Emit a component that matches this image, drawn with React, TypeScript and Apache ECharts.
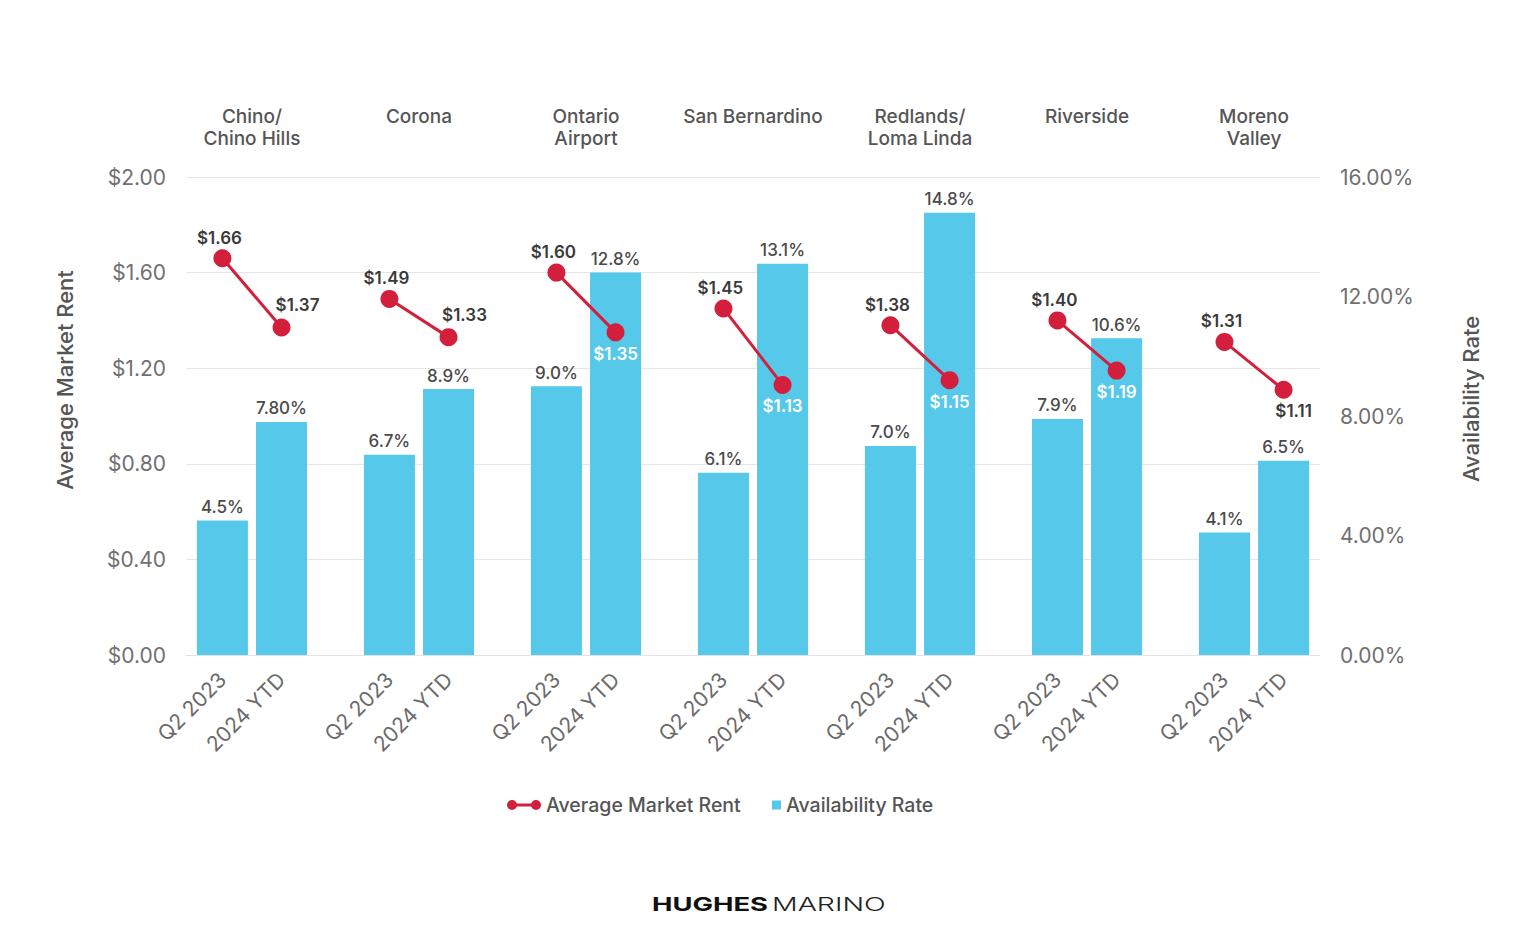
import React, { useEffect, useRef } from "react";
import * as echarts from "echarts";

// ---- data ----
const regions = [
  "Chino/\nChino Hills",
  "Corona",
  "Ontario\nAirport",
  "San Bernardino",
  "Redlands/\nLoma Linda",
  "Riverside",
  "Moreno\nValley",
];
const periods = ["Q2 2023", "2024 YTD"];
const rentQ2 = [1.66, 1.49, 1.6, 1.45, 1.38, 1.4, 1.31];
const rentYtd = [1.37, 1.33, 1.35, 1.13, 1.15, 1.19, 1.11];
const availQ2 = [4.5, 6.7, 9.0, 6.1, 7.0, 7.9, 4.1];
const availYtd = [7.8, 8.9, 12.8, 13.1, 14.8, 10.6, 6.5];
const availYtdDecimals = [2, 1, 1, 1, 1, 1, 1];
const rentAxis = { min: 0, max: 2, interval: 0.4 };
const availAxis = { min: 0, max: 16, interval: 4 };

// ---- style ----
const RED = "#d31f3b";
const BLUE = "#56c8e9";
const DARK = "#3a3a3a";
const FONT = "Inter";
const OFF = 0.177;
const ytdPlacement = ["aboveRight", "aboveRight", "inside", "inside", "inside", "inside", "belowRight"];

const labelStyles: Record<string, any> = {
  q2: { position: "top", distance: 3, offset: [-3, 0], color: DARK },
  aboveRight: { position: "top", distance: 3, offset: [16, -2], color: DARK },
  inside: { position: "bottom", distance: 3, offset: [0, 1], color: "#ffffff" },
  belowRight: { position: "bottom", distance: 3, offset: [10, 1], color: DARK },
};

const LEGEND_LINE_ICON =
  "path://M0,5A5,5,0,1,1,10,5A5,5,0,1,1,0,5Z M24,5A5,5,0,1,1,34,5A5,5,0,1,1,24,5Z M9,3.6L25,3.6L25,6.4L9,6.4Z";

export default function App() {
  const ref = useRef<HTMLDivElement>(null);

  useEffect(() => {
    if (!ref.current) return;
    const chart = echarts.init(ref.current, undefined, { renderer: "svg" });

    const lineSeries = regions.map((_, i) => ({
      type: "line",
      name: "Average Market Rent",
      xAxisIndex: 0,
      yAxisIndex: 0,
      data: [
        { value: [i - OFF, rentQ2[i]], label: labelStyles.q2 },
        { value: [i + OFF, rentYtd[i]], label: labelStyles[ytdPlacement[i]] },
      ],
      symbol: "circle",
      symbolSize: 18,
      color: RED,
      lineStyle: { width: 3, color: RED },
      itemStyle: { color: RED },
      label: {
        show: true,
        formatter: (p: any) => "$" + p.value[1].toFixed(2),
        fontFamily: FONT,
        fontSize: 17,
        fontWeight: 600,
      },
      z: 5,
    }));

    const barData: any[] = [];
    regions.forEach((_, i) => {
      barData.push([i - OFF, availQ2[i]]);
      barData.push([i + OFF, availYtd[i]]);
    });

    const legendText = { fontFamily: FONT, fontSize: 19.5, fontWeight: 500, color: "#555" };

    chart.setOption({
      animation: false,
      textStyle: { fontFamily: FONT },
      grid: { left: 186, right: 216, top: 177, bottom: 296, outerBoundsMode: "none" },
      legend: [
        {
          data: [{ name: "Average Market Rent", icon: LEGEND_LINE_ICON }],
          left: 507,
          top: 795,
          padding: 0,
          itemWidth: 34,
          itemHeight: 10,
          itemGap: 0,
          textStyle: legendText,
        },
        {
          data: [{ name: "Availability Rate", icon: "rect" }],
          left: 772,
          top: 795,
          padding: 0,
          itemWidth: 9,
          itemHeight: 9,
          textStyle: legendText,
        },
      ],
      xAxis: [
        {
          type: "value",
          position: "bottom",
          min: -0.395,
          max: regions.length - 1 + 0.395,
          splitLine: { show: false },
          axisTick: { show: false },
          axisLine: { show: true, lineStyle: { color: "#e2e2e2", width: 1 } },
          axisLabel: {
            customValues: regions.flatMap((_, i) => [i - OFF, i + OFF]),
            formatter: (v: number) => (v < Math.round(v) ? periods[0] : periods[1]),
            rotate: 45,
            margin: 21,
            fontFamily: FONT,
            fontSize: 21,
            color: "#6b6b6b",
          },
        },
        {
          type: "value",
          position: "top",
          min: -0.395,
          max: regions.length - 1 + 0.395,
          splitLine: { show: false },
          axisTick: { show: false },
          axisLine: { show: false },
          axisLabel: {
            customValues: regions.map((_, i) => i),
            formatter: (v: number) => regions[Math.round(v)],
            verticalAlign: "top",
            margin: 72,
            fontFamily: FONT,
            fontSize: 19,
            lineHeight: 22,
            fontWeight: 500,
            color: "#555",
          },
        },
      ],
      yAxis: [
        {
          type: "value",
          position: "left",
          min: rentAxis.min,
          max: rentAxis.max,
          interval: rentAxis.interval,
          axisLine: { show: false },
          axisTick: { show: false },
          splitLine: { show: true, lineStyle: { color: "#e6e6e6", width: 1 } },
          axisLabel: {
            formatter: (v: number) => "$" + v.toFixed(2),
            margin: 20,
            fontFamily: FONT,
            fontSize: 21,
            color: "#707070",
          },
          name: "Average Market Rent",
          nameLocation: "middle",
          nameGap: 110,
          nameRotate: 90,
          nameTextStyle: {
            fontFamily: FONT,
            fontSize: 22,
            fontWeight: 500,
            color: "#555",
            padding: [0, 0, 0, 72],
          },
        },
        {
          type: "value",
          position: "right",
          min: availAxis.min,
          max: availAxis.max,
          interval: availAxis.interval,
          axisLine: { show: false },
          axisTick: { show: false },
          splitLine: { show: false },
          axisLabel: {
            formatter: (v: number) => v.toFixed(2) + "%",
            margin: 20,
            fontFamily: FONT,
            fontSize: 21,
            color: "#707070",
          },
          name: "Availability Rate",
          nameLocation: "middle",
          nameGap: 140,
          nameRotate: 90,
          nameTextStyle: {
            fontFamily: FONT,
            fontSize: 22,
            fontWeight: 500,
            color: "#555",
            padding: [0, 0, 0, 34],
          },
        },
      ],
      series: [
        {
          type: "bar",
          name: "Availability Rate",
          xAxisIndex: 0,
          yAxisIndex: 1,
          data: barData,
          barWidth: 51,
          color: BLUE,
          itemStyle: { color: BLUE },
          label: {
            show: true,
            position: "top",
            distance: 5,
            formatter: (p: any) => {
              const i = Math.floor(p.dataIndex / 2);
              const d = p.dataIndex % 2 === 1 ? availYtdDecimals[i] : 1;
              return p.value[1].toFixed(d) + "%";
            },
            fontFamily: FONT,
            fontSize: 17,
            fontWeight: 500,
            color: "#4a4a4a",
          },
          z: 2,
        },
        ...lineSeries,
      ],
      graphic: [
        {
          type: "text",
          x: 652,
          y: 904,
          scaleX: 1.44,
          style: {
            text: "HUGHES",
            fontFamily: FONT,
            fontSize: 19,
            fontWeight: "bold",
            fill: "#111",
            textAlign: "left",
            textVerticalAlign: "middle",
          },
        },
        {
          type: "text",
          x: 772,
          y: 904,
          scaleX: 1.5,
          style: {
            text: "MARINO",
            fontFamily: FONT,
            fontSize: 19,
            fontWeight: 300,
            fill: "#222",
            textAlign: "left",
            textVerticalAlign: "middle",
          },
        },
      ],
    });

    return () => chart.dispose();
  }, []);

  return (
    <div
      ref={ref}
      style={{ position: "absolute", left: 0, top: 0, width: 1536, height: 951, background: "#fff" }}
    />
  );
}
